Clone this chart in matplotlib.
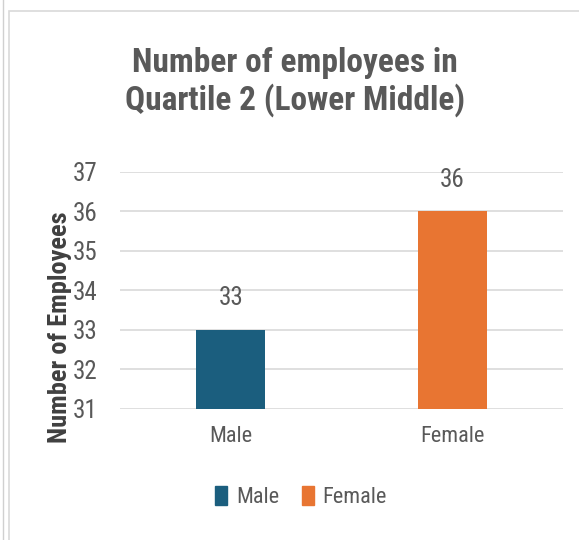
import matplotlib.pyplot as plt
from matplotlib.patches import Rectangle
from matplotlib.lines import Line2D

categories = ["Male", "Female"]
values = [33, 36]
colors = ["#1b5e7e", "#e87532"]
yticks = [31, 32, 33, 34, 35, 36, 37]

plt.rcParams["font.family"] = ["Roboto Condensed", "Liberation Sans", "DejaVu Sans"]
txt = "#595959"

fig = plt.figure(figsize=(5.79, 5.40), dpi=100)

# chart frame
fig.patches.append(Rectangle((9 / 579, -0.1), 2, 1.1 - 11 / 540, transform=fig.transFigure,
                             fill=False, edgecolor="#d9d9d9", linewidth=1.2))
fig.add_artist(Line2D([3 / 579, 3 / 579], [0, 1], transform=fig.transFigure,
                      color="#d0d0d0", linewidth=1))

ax = fig.add_axes([120 / 579, 1 - 409 / 540, 443 / 579, 237 / 540])
ax.bar(range(len(categories)), values, width=0.31, color=colors, zorder=3)
ax.set_xlim(-0.5, 1.5)
ax.set_ylim(31, 37)
ax.set_yticks(yticks)
ax.set_xticks(range(len(categories)))
ax.set_xticklabels(categories)
ax.grid(axis="y", color="#d9d9d9", linewidth=1.2, zorder=0)
for s in ax.spines.values():
    s.set_visible(False)
ax.tick_params(length=0, colors=txt, labelsize=18)
ax.tick_params(axis="y", pad=16)
ax.tick_params(axis="x", labelsize=16, pad=12)

for i, v in enumerate(values):
    ax.text(i, v + 0.5, str(v), ha="center", va="bottom", fontsize=18, color=txt)

fig.text(0.509, 1 - 82 / 540, "Number of employees in\nQuartile 2 (Lower Middle)",
         ha="center", va="center", fontsize=24, fontweight="bold", color=txt,
         linespacing=1.15)
fig.text(60 / 579, 1 - 327 / 540, "Number of Employees", rotation=90, ha="center",
         va="center", fontsize=19, fontweight="bold", color="#404040")

handles = [Rectangle((0, 0), 1, 1, color=c) for c in colors]
fig.legend(handles, categories, loc="center", bbox_to_anchor=(0.52, 1 - 497 / 540),
           ncol=2, frameon=False, fontsize=16, labelcolor=txt, handlelength=0.55,
           handleheight=0.9, handletextpad=0.4, columnspacing=1.0)

fig.savefig("out.png", dpi=100)
